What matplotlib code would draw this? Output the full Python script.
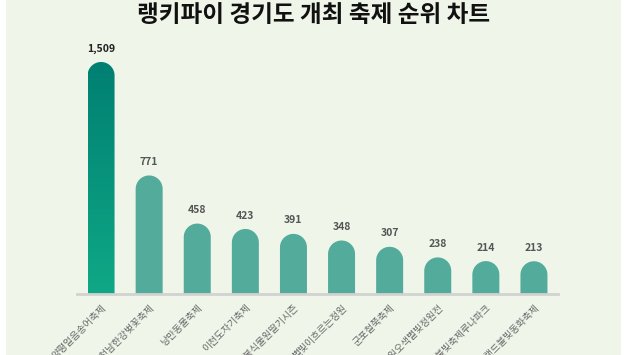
import numpy as np
import matplotlib
matplotlib.use('Agg')
import matplotlib.pyplot as plt
from matplotlib.patches import Rectangle, PathPatch
from matplotlib.path import Path

plt.rcParams['font.family'] = ['Noto Sans CJK KR', 'DejaVu Sans']

# data
title = '랭키파이 경기도 개최 축제 순위 차트'
festivals = ['양평얼음송어축제', '여주흥천남한강벚꽃축제', '낭만동물축제', '이천도자기축제',
             '물봉식물원딸기시즌', '별빛이흐르는정원', '군포철쭉축제',
             '아침고요수목원오색별빛정원전', '에버랜드불빛축제루나파크', '포천허브아일랜드불빛동화축제']
scores = [1509, 771, 458, 423, 391, 348, 307, 238, 214, 213]

W, H = 627, 355
fig = plt.figure(figsize=(W / 100, H / 100), dpi=100, facecolor='white')
bg = Rectangle((6 / W, 0), (621 - 6) / W, 1, transform=fig.transFigure,
               facecolor='#eff6e9', edgecolor='none', zorder=-10)
fig.add_artist(bg)

# axes placement in pixels
x0, x1, y_base, y_top = 77, 558, 294, 40
ax = fig.add_axes([x0 / W, (H - y_base) / H, (x1 - x0) / W, (y_base - y_top) / H])
ax.set_facecolor('none')
ymax = 1652
ax.set_xlim(-0.5, len(scores) - 0.5)
ax.set_ylim(0, ymax)

bar_px = 27
bw = bar_px * len(scores) / (x1 - x0)          # bar width in data units
r_y = (bar_px / 2) * ymax / (y_base - y_top)   # cap radius in y data units


def rounded_bar(xc, h):
    t = np.linspace(0, np.pi, 40)
    top = h - r_y
    arc_x = xc + (bw / 2) * np.cos(t)
    arc_y = top + r_y * np.sin(t)
    verts = [(xc + bw / 2, 0), (xc + bw / 2, top)]
    verts += list(zip(arc_x, arc_y))
    verts += [(xc - bw / 2, top), (xc - bw / 2, 0), (xc + bw / 2, 0)]
    codes = [Path.MOVETO] + [Path.LINETO] * (len(verts) - 2) + [Path.CLOSEPOLY]
    return Path(verts, codes)


for i, v in enumerate(scores):
    path = rounded_bar(i, v)
    if i == 0:
        patch = PathPatch(path, facecolor='none', edgecolor='none')
        ax.add_patch(patch)
        grad = np.linspace(0, 1, 256).reshape(-1, 1)
        cmap = matplotlib.colors.LinearSegmentedColormap.from_list('g', ['#0fa886', '#007f72'])
        im = ax.imshow(grad, cmap=cmap, origin='lower', aspect='auto',
                       extent=(i - bw / 2, i + bw / 2, 0, v), zorder=2)
        im.set_clip_path(patch)
        color = '#222222'
    else:
        ax.add_patch(PathPatch(path, facecolor='#52ab9b', edgecolor='none', zorder=2))
        color = '#555555'
    ax.text(i, v + 55, f'{v:,}', ha='center', va='bottom', fontsize=7.5,
            fontweight='bold', color=color)

for s in ['top', 'right', 'left']:
    ax.spines[s].set_visible(False)
ax.spines['bottom'].set_color('#d2d2d2')
ax.spines['bottom'].set_linewidth(2)
ax.set_yticks([])
ax.set_xticks(range(len(festivals)))
ax.set_xticklabels(festivals, rotation=45, ha='right', rotation_mode='anchor',
                   fontsize=7, color='#666666')
ax.tick_params(axis='x', length=0, pad=6)

fig.text(0.5, 1 - 15 / H, title, ha='center', va='center', fontsize=17,
         fontweight='bold', color='#111111')

fig.savefig('out.png', dpi=100, facecolor=fig.get_facecolor())
